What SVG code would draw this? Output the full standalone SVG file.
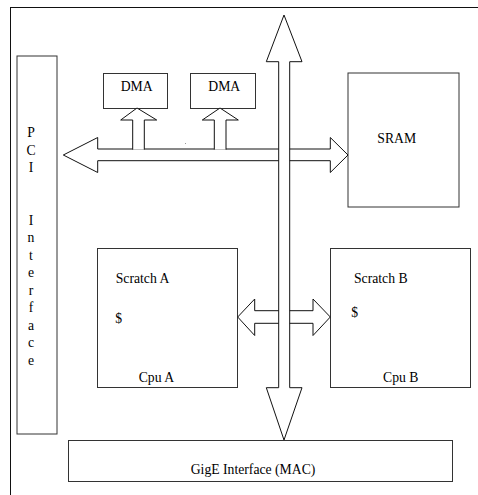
<svg xmlns="http://www.w3.org/2000/svg" width="478" height="495" viewBox="0 0 478 495">
<style>
.box{fill:#fff;stroke:#333;stroke-width:1}
.arr{fill:#fff;stroke:#111;stroke-width:1;stroke-linejoin:miter}
text{font-family:"Liberation Serif","Times New Roman",serif;font-size:13.7px;fill:#000}
</style>
<rect x="0" y="0" width="478" height="495" fill="#fff"/>
<rect x="10.5" y="7.5" width="500" height="500" fill="none" stroke="#111" stroke-width="1"/>
<g id="pci">
<rect class="box" x="17" y="56" width="40" height="378"/>
<text text-anchor="middle"><tspan x="31" y="137">P</tspan><tspan x="31" y="154.5">C</tspan><tspan x="31" y="172">I</tspan><tspan x="31" y="224.5">I</tspan><tspan x="31" y="242">n</tspan><tspan x="31" y="259.5">t</tspan><tspan x="31" y="277">e</tspan><tspan x="31" y="294.5">r</tspan><tspan x="31" y="312">f</tspan><tspan x="31" y="329.5">a</tspan><tspan x="31" y="347">c</tspan><tspan x="31" y="364.5">e</tspan></text>
</g>
<g id="dma1">
<rect class="box" x="103.5" y="73.5" width="64" height="35"/>
<text x="120.7" y="91">DMA</text>
</g>
<g id="dma2">
<rect class="box" x="190.5" y="73.5" width="65" height="35"/>
<text x="208.3" y="91">DMA</text>
</g>
<g id="sram">
<rect class="box" x="348" y="73" width="111" height="134"/>
<text x="377.3" y="142.7">SRAM</text>
</g>
<g id="cpuA">
<rect class="box" x="97.5" y="248.5" width="140" height="139"/>
<text x="115.7" y="282.7">Scratch A</text>
<text x="115.3" y="322.7">$</text>
<text x="138.7" y="381.7">Cpu A</text>
</g>
<g id="cpuB">
<rect class="box" x="330.5" y="248.5" width="140" height="139"/>
<text x="354" y="282.7">Scratch B</text>
<text x="351.3" y="317">$</text>
<text x="383" y="381.7">Cpu B</text>
</g>
<g id="gige">
<rect class="box" x="68.5" y="440.5" width="384" height="41"/>
<text x="190.7" y="474.3">GigE Interface (MAC)</text>
</g>
<g id="connectors">
<polygon class="arr" points="63.3,155 97.7,137.5 97.7,149 330.3,149 330.3,137.5 348,155 330.3,172.5 330.3,160.7 97.7,160.7 97.7,172.5"/>
<path class="arr" d="M132.7,149.6 V120 H120.7 L137,108 L156.7,120 H144.3 V149.6"/>
<path class="arr" d="M214.3,149.6 V120 H202.3 L220,108 L238.3,120 H226 V149.6"/>
<polygon class="arr" points="237.7,317 254.7,299 254.7,310.7 313,310.7 313,299 330.3,317 313,335.5 313,323.3 254.7,323.3 254.7,335.5"/>
<polygon class="arr" points="284,15 302,61.7 289.7,61.7 289.7,387.7 302,387.7 284,440 266.3,387.7 278.7,387.7 278.7,61.7 266.3,61.7"/>
<rect x="185" y="143" width="1" height="1" fill="#999"/>
</g>
</svg>
